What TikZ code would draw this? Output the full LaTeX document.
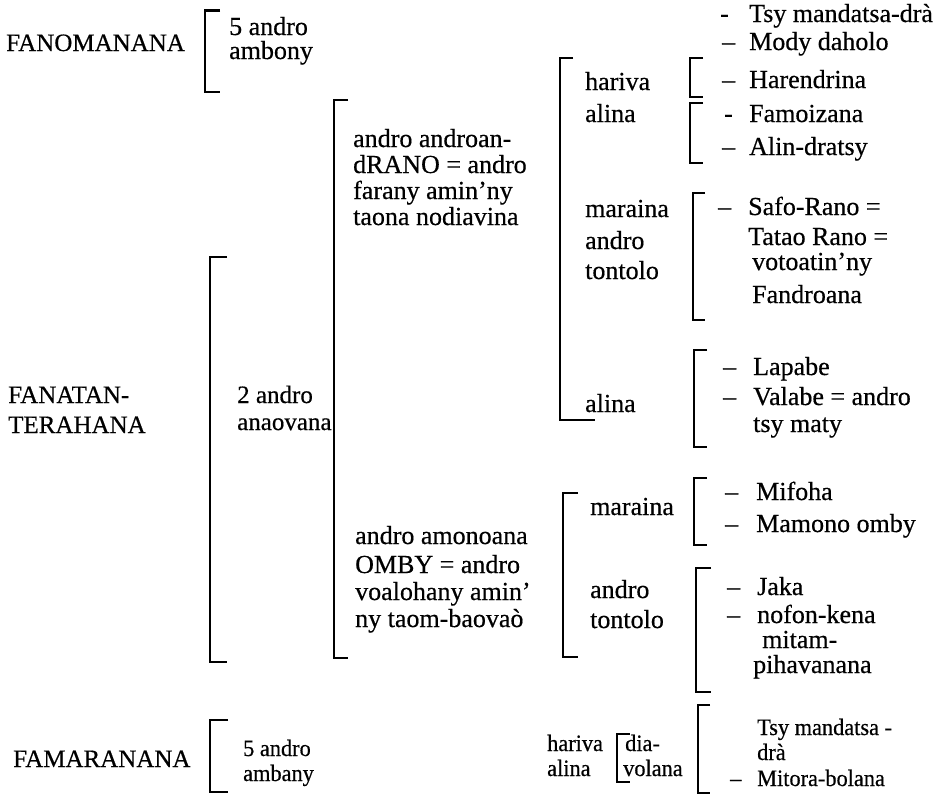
\documentclass[tikz,border=0pt]{standalone}
\usepackage{fontspec}
\setmainfont[FakeBold=0.5]{Liberation Serif}
\newfontfamily\condfont[FakeStretch=0.95,FakeBold=0.5]{Liberation Serif}
\newcommand\mybrak[4]{\draw[brk] (#1+#4,#2) -- (#1,#2) -- (#1,#3) -- (#1+#4,#3);}
\begin{document}
\begin{tikzpicture}[x=1pt,y=-1pt,
  txt/.style={anchor=base west, inner sep=0pt, font=\fontsize{26}{30}\selectfont},
  capstext/.style={anchor=base west, inner sep=0pt, font=\fontsize{25}{30}\selectfont},
  low/.style={anchor=base west, inner sep=0pt, font=\condfont\fontsize{23.5}{28}\selectfont},
  brk/.style={line width=2.2pt, line join=miter}]
\useasboundingbox[fill=white] (0,0) rectangle (942,795);

% ---------- brackets ----------
\mybrak{205}{10.5}{92}{15}
\mybrak{210}{257}{662}{17}
\mybrak{334}{100}{658}{14}
\draw[brk] (573,58) -- (560,58) -- (560,420) -- (595,420);
\mybrak{690}{58}{97}{13}
\mybrak{690}{103}{163}{13}
\mybrak{693}{193}{320}{12}
\mybrak{694}{350}{447}{13}
\mybrak{563}{493}{657}{15}
\mybrak{694}{478}{545}{13}
\mybrak{696}{568}{692}{15}
\mybrak{210}{720}{792}{18}
\mybrak{617}{734}{782}{13}
\mybrak{698}{705}{793}{12}

% ---------- left column ----------
\node[capstext] (fano) at (6,51) {FANOMANANA};
\node[txt] (fano1) at (229,35) {5 andro};
\node[txt] (fano2) at (229,59) {ambony};

\node[capstext] (fana1) at (8,403) {FANATAN-};
\node[capstext] (fana2) at (8,433) {TERAHANA};
\node[txt,font=\fontsize{25}{30}\selectfont] (ana1) at (237,403) {2 andro};
\node[txt,font=\fontsize{25}{30}\selectfont] (ana2) at (237,430) {anaovana};

\node[capstext] (fama) at (13,767) {FAMARANANA};
\node[low] (fama1) at (243,756) {5 andro};
\node[low] (fama2) at (243,781) {ambany};

% ---------- middle blocks ----------
\node[txt] (ar1) at (353,147) {andro androan-};
\node[txt] (ar2) at (353,173) {dRANO = andro};
\node[txt] (ar3) at (353,199) {farany amin’ny};
\node[txt] (ar4) at (353,225) {taona nodiavina};

\node[txt] (ao1) at (355,544) {andro amonoana};
\node[txt] (ao2) at (355,573) {OMBY = andro};
\node[txt] (ao3) at (355,600) {voalohany amin’};
\node[txt] (ao4) at (355,627) {ny taom-baovaò};

% ---------- third column ----------
\node[txt] (ha1) at (585,90) {hariva};
\node[txt] (ha2) at (585,122) {alina};
\node[txt] (ma1) at (585,217) {maraina};
\node[txt] (ma2) at (585,249) {andro};
\node[txt] (ma3) at (585,279) {tontolo};
\node[txt] (al) at (585,412) {alina};
\node[txt] (mr) at (590,515) {maraina};
\node[txt] (at1) at (590,598) {andro};
\node[txt] (at2) at (590,628) {tontolo};

\node[low] (bh1) at (547,751) {hariva};
\node[low] (bh2) at (547,776) {alina};
\node[low] (dv1) at (625,751) {dia-};
\node[low] (dv2) at (623,776) {volana};

% ---------- right column ----------
\node[txt] (k1) at (720,22) {-};
\node[txt] (t1) at (749,22) {Tsy mandatsa-drà};
\node[txt] (k2) at (722,50) {–};
\node[txt] (t2) at (749,50) {Mody daholo};
\node[txt] (k3) at (722,88) {–};
\node[txt] (t3) at (749,88) {Harendrina};
\node[txt] (k4) at (724,122) {-};
\node[txt] (t4) at (749,122) {Famoizana};
\node[txt] (k5) at (722,155) {–};
\node[txt] (t5) at (749,155) {Alin-dratsy};

\node[txt] (k6) at (718,215) {–};
\node[txt] (t6) at (748,215) {Safo-Rano =};
\node[txt] (t7) at (748,245) {Tatao Rano =};
\node[txt] (t8) at (752,270) {votoatin’ny};
\node[txt] (t9) at (752,303) {Fandroana};

\node[txt] (k10) at (723,375) {–};
\node[txt] (t10) at (753,375) {Lapabe};
\node[txt] (k11) at (723,405) {–};
\node[txt] (t11) at (753,405) {Valabe = andro};
\node[txt] (t12) at (753,432) {tsy maty};

\node[txt] (k13) at (725,500) {–};
\node[txt] (t13) at (756,500) {Mifoha};
\node[txt] (k14) at (725,532) {–};
\node[txt] (t14) at (756,532) {Mamono omby};

\node[txt] (k15) at (727,595) {--};
\node[txt] (t15) at (757,595) {Jaka};
\node[txt] (k16) at (727,623) {–};
\node[txt] (t16) at (757,623) {nofon-kena};
\node[txt] (t17) at (762,648) {mitam-};
\node[txt] (t18) at (753,673) {pihavanana};

\node[low] (t19) at (757,735) {Tsy mandatsa -};
\node[low] (t20) at (757,760) {drà};
\node[low] (k21) at (730,786) {–};
\node[low] (t21) at (757,786) {Mitora-bolana};
\end{tikzpicture}
\end{document}
